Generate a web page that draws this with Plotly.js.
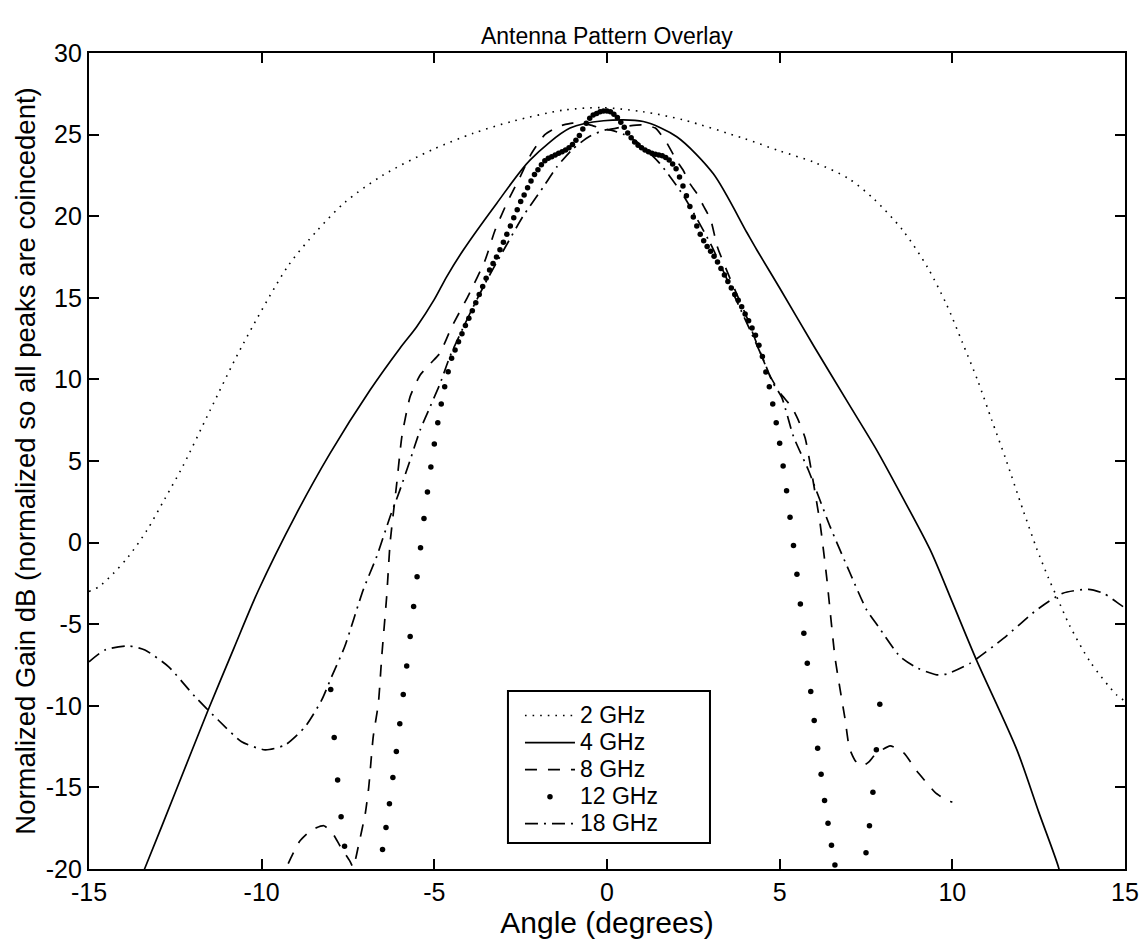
<!DOCTYPE html>
<html>
<head>
<meta charset="utf-8">
<script src="https://cdn.plot.ly/plotly-3.0.1.min.js"></script>
<style>html,body{margin:0;padding:0;background:#fff;}#chart{width:1145px;height:941px;}</style>
</head>
<body>
<div id="chart"></div>
<script>
// 2 GHz (dotted)
const x2 = [-15, -14.71, -14.3, -13.86, -13.33, -12.8, -12.29, -11.5, -10.58, -9.23, -8.4, -7.59, -6.5, -5.03, -3.87, -2.71, -1.26, -0.15, 1.05, 2.21, 3.95, 5.0, 6.0, 7.0, 7.73, 8.56, 9.28, 9.83, 10.29, 10.74, 11.14, 11.55, 12.04, 12.44, 12.78, 13.02, 13.39, 13.99, 14.76, 15];
const y2 = [-3.0, -2.7, -1.9, -0.86, 0.73, 2.7, 4.65, 8.08, 12.0, 16.97, 19.1, 20.85, 22.5, 24.1, 25.08, 25.83, 26.5, 26.65, 26.4, 25.9, 24.77, 24.0, 23.3, 22.3, 21.05, 19.15, 16.87, 14.6, 12.27, 9.9, 7.51, 5.1, 2.04, -0.35, -2.15, -3.3, -5.05, -7.3, -9.34, -9.7];

// 4 GHz (solid)
const x4 = [-13.6, -13.38, -12.5, -11.55, -10.8, -10.1, -9.0, -8.02, -6.86, -6.0, -5.51, -5.0, -4.64, -4.16, -3.19, -2.23, -1.07, -0.1, 1.05, 2.02, 3.08, 4.05, 4.34, 5.0, 6.0, 7.0, 7.81, 8.5, 9.36, 10.0, 10.7, 11.87, 12.5, 13.07, 13.2];
const y4 = [-21.0, -19.94, -15.3, -10.26, -6.45, -2.95, 1.75, 5.47, 9.35, 11.9, 13.23, 14.9, 16.3, 17.93, 20.8, 23.44, 25.4, 25.85, 25.8, 24.87, 22.6, 19.0, 17.93, 15.6, 12.0, 8.5, 5.67, 3.0, -0.45, -3.65, -7.2, -12.7, -16.5, -19.86, -21.0];

// 8 GHz (dashed)
const x8 = [-9.45, -9.27, -8.9, -8.55, -8.2, -7.95, -7.7, -7.45, -7.35, -7.2, -7.0, -6.9, -6.77, -6.62, -6.52, -6.38, -6.28, -6.09, -5.94, -5.7, -5.41, -5.1, -4.84, -4.5, -4.0, -3.53, -3.24, -2.9, -2.52, -2.2, -1.8, -1.4, -1.0, -0.5, 0, 0.5, 1.0, 1.4, 1.7, 2.02, 2.21, 2.4, 2.6, 2.8, 3.0, 3.2, 3.6, 4.05, 4.3, 4.7, 5.0, 5.35, 5.54, 5.74, 5.93, 6.17, 6.36, 6.6, 6.75, 6.9, 7.02, 7.2, 7.4, 7.6, 7.76, 8.2, 8.6, 8.97, 9.21, 9.5, 9.84, 10.0];
const y8 = [-21.0, -19.86, -18.3, -17.6, -17.35, -17.8, -18.7, -19.5, -19.9, -18.6, -16.6, -15.0, -11.9, -9.85, -6.9, -3.3, 0.0, 3.6, 6.5, 8.95, 10.27, 11.0, 11.6, 13.2, 15.2, 17.3, 19.15, 20.8, 22.4, 23.8, 25.0, 25.5, 25.7, 25.6, 25.3, 25.5, 25.6, 25.4, 24.6, 23.4, 22.8, 22.0, 21.4, 20.6, 19.8, 18.1, 16.0, 13.8, 12.4, 10.3, 9.2, 8.3, 7.5, 6.4, 4.25, 1.18, -2.1, -7.0, -9.0, -10.9, -12.6, -13.4, -13.7, -13.4, -13.0, -12.45, -12.9, -14.0, -14.6, -15.3, -15.8, -15.9];

// 12 GHz (sample points only)
const x12 = [-8.0, -7.9, -7.8, -7.7, -7.6,
  -6.5, -6.4, -6.3, -6.2, -6.1, -6.0, -5.9, -5.8, -5.7, -5.6, -5.5, -5.4, -5.3, -5.2, -5.1, -5.0, -4.9, -4.8, -4.7, -4.6, -4.5, -4.4, -4.3, -4.2, -4.1, -4.0, -3.9, -3.8, -3.7, -3.6, -3.5, -3.4, -3.3, -3.2, -3.1, -3.0, -2.9, -2.8, -2.7, -2.6, -2.5, -2.4, -2.3, -2.2, -2.1, -2.0, -1.9, -1.8, -1.7, -1.6, -1.5, -1.4, -1.3, -1.2, -1.1, -1.0, -0.9, -0.8, -0.7, -0.6, -0.5, -0.4, -0.3, -0.2, -0.1,
  0.0, 0.1, 0.2, 0.3, 0.4, 0.5, 0.6, 0.7, 0.8, 0.9, 1.0, 1.1, 1.2, 1.3, 1.4, 1.5, 1.6, 1.7, 1.8, 1.9, 2.0, 2.1, 2.2, 2.3, 2.4, 2.5, 2.6, 2.7, 2.8, 2.9, 3.0, 3.1, 3.2, 3.3, 3.4, 3.5, 3.6, 3.7, 3.8, 3.9, 4.0, 4.1, 4.2, 4.3, 4.4, 4.5, 4.6, 4.7, 4.8, 4.9, 5.0, 5.1, 5.2, 5.3, 5.4, 5.5, 5.6, 5.7, 5.8, 5.9, 6.0, 6.1, 6.2, 6.3, 6.4, 6.5, 6.6,
  7.5, 7.6, 7.7, 7.8, 7.9];
const y12 = [-9.0, -11.95, -14.55, -16.8, -18.6,
  -18.8, -17.45, -16.0, -14.4, -12.8, -11.1, -9.3, -7.56, -5.76, -3.92, -2.09, -0.31, 1.47, 3.1, 4.63, 6.04, 7.35, 8.49, 9.55, 10.47, 11.29, 11.8, 12.3, 12.8, 13.3, 13.75, 14.2, 14.7, 15.2, 15.7, 16.2, 16.7, 17.1, 17.5, 17.95, 18.4, 18.9, 19.4, 19.9, 20.4, 20.9, 21.3, 21.75, 22.15, 22.55, 22.85, 23.15, 23.4, 23.55, 23.65, 23.75, 23.85, 23.95, 24.05, 24.2, 24.4, 24.65, 24.95, 25.35, 25.7, 26.0, 26.2, 26.3, 26.4, 26.45,
  26.45, 26.4, 26.25, 26.05, 25.75, 25.45, 25.1, 24.8, 24.55, 24.35, 24.2, 24.05, 23.95, 23.85, 23.8, 23.75, 23.7, 23.6, 23.45, 23.2, 22.9, 22.4, 21.85, 21.25, 20.6, 19.95, 19.4, 18.9, 18.5, 18.15, 17.85, 17.55, 17.2, 16.8, 16.4, 16.0, 15.6, 15.2, 14.85, 14.45, 14.0, 13.6, 13.15, 12.7, 12.1, 11.4, 10.45, 9.55, 8.49, 7.35, 6.08, 4.69, 3.18, 1.55, -0.18, -1.94, -3.76, -5.56, -7.4, -9.13, -10.9, -12.6, -14.2, -15.8, -17.2, -18.55, -19.75,
  -19.0, -17.35, -15.3, -12.7, -9.9];

// 18 GHz (dash-dot)
const x18 = [-15, -14.54, -13.86, -13.38, -12.7, -11.93, -11.26, -10.58, -9.9, -9.32, -8.74, -8.26, -7.97, -7.6, -7.06, -6.67, -6.28, -6.0, -5.7, -5.41, -5.12, -4.83, -4.55, -4.0, -3.5, -3.0, -2.43, -1.84, -1.46, -1.0, -0.5, 0, 0.5, 0.9, 1.5, 2.2, 3.0, 3.8, 4.53, 4.8, 5.06, 5.4, 5.83, 6.46, 7.04, 7.52, 7.86, 8.49, 9.0, 9.55, 9.84, 10.51, 11.48, 12.44, 13.2, 13.94, 14.37, 14.86, 15];
const y18 = [-7.3, -6.58, -6.33, -6.58, -7.6, -9.44, -10.87, -12.2, -12.7, -12.4, -11.28, -9.64, -8.2, -6.4, -2.9, -0.86, 1.6, 3.2, 5.06, 6.9, 8.33, 9.76, 11.4, 13.9, 16.0, 17.9, 20.0, 21.8, 23.0, 24.1, 24.9, 25.3, 25.0, 24.5, 23.3, 21.3, 18.3, 14.6, 11.2, 9.8, 8.9, 6.5, 4.45, 0.98, -1.88, -4.13, -5.15, -6.99, -7.7, -8.1, -8.05, -7.4, -5.87, -4.13, -3.1, -2.86, -3.1, -3.8, -4.0];

const seriesNames = ['2 GHz', '4 GHz', '8 GHz', '12 GHz', '18 GHz'];
const xTicks = [-15, -10, -5, 0, 5, 10, 15];
const yTicks = [-20, -15, -10, -5, 0, 5, 10, 15, 20, 25, 30];

const FONT = 'Liberation Sans, Arial, Helvetica, sans-serif';
const lw = 1.7;
// legend text drawn a little larger than the legend's row font
const legendLabel = (s) => '<span style="font-size:23px">' + s + '</span>';

const traces = [
  {x: x2, y: y2, name: legendLabel(seriesNames[0]), mode: 'lines', line: {color: '#000', width: 1.6, dash: '1.6px,6px', shape: 'spline', smoothing: 0.8}},
  {x: x4, y: y4, name: legendLabel(seriesNames[1]), mode: 'lines', line: {color: '#000', width: lw, shape: 'spline', smoothing: 0.8}},
  {x: x8, y: y8, name: legendLabel(seriesNames[2]), mode: 'lines', line: {color: '#000', width: lw, dash: '12px,11px', shape: 'spline', smoothing: 0.5}},
  {x: x12, y: y12, name: legendLabel(seriesNames[3]), mode: 'markers', marker: {color: '#000', size: 5.5, symbol: 'circle'}},
  {x: x18, y: y18, name: legendLabel(seriesNames[4]), mode: 'lines', line: {color: '#000', width: lw, dash: '13px,6px,2px,6px', shape: 'spline', smoothing: 0.6}}
];

const axisCommon = {
  showline: true, linecolor: '#000', linewidth: 2.2, mirror: 'ticks',
  ticks: 'inside', ticklen: 10, tickwidth: 2, tickcolor: '#000',
  showgrid: false, zeroline: false,
  tickfont: {family: FONT, size: 25, color: '#000'}
};

// legend frame drawn at the reference size (paper coordinates)
const legendFrame = {x0: 0.4044, x1: 0.5994, y0: 0.0319, y1: 0.2181};

const layout = {
  width: 1145, height: 941,
  margin: {l: 89, r: 20, t: 53, b: 72, pad: 0},
  paper_bgcolor: '#fff', plot_bgcolor: '#fff',
  font: {family: FONT, color: '#000'},
  title: {text: 'Antenna Pattern Overlay', font: {family: FONT, size: 23, color: '#000'}, x: 0.53, xanchor: 'center', y: 0.962, yanchor: 'middle'},
  xaxis: Object.assign({}, axisCommon, {
    range: [-15, 15], tickvals: xTicks, ticktext: xTicks.map(String),
    title: {text: 'Angle (degrees)', font: {family: FONT, size: 30, color: '#000'}, standoff: 0}
  }),
  yaxis: Object.assign({}, axisCommon, {
    range: [-20, 30], tickvals: yTicks, ticktext: yTicks.map(String),
    title: {text: 'Normalized Gain dB (normalized so all peaks are coincedent)', font: {family: FONT, size: 27.5, color: '#000'}, standoff: 2}
  }),
  shapes: [{
    type: 'rect', xref: 'paper', yref: 'paper',
    x0: legendFrame.x0, x1: legendFrame.x1, y0: legendFrame.y0, y1: legendFrame.y1,
    line: {color: '#000', width: 2}, fillcolor: '#fff', layer: 'above'
  }],
  showlegend: true,
  legend: {
    x: 0.416, y: 0.2108, xanchor: 'left', yanchor: 'top',
    bgcolor: 'rgba(0,0,0,0)', borderwidth: 0,
    font: {family: FONT, size: 18.5, color: '#000'},
    itemwidth: 50, tracegroupgap: 0
  }
};

Plotly.newPlot('chart', traces, layout, {staticPlot: true, displayModeBar: false});
</script>
</body>
</html>
